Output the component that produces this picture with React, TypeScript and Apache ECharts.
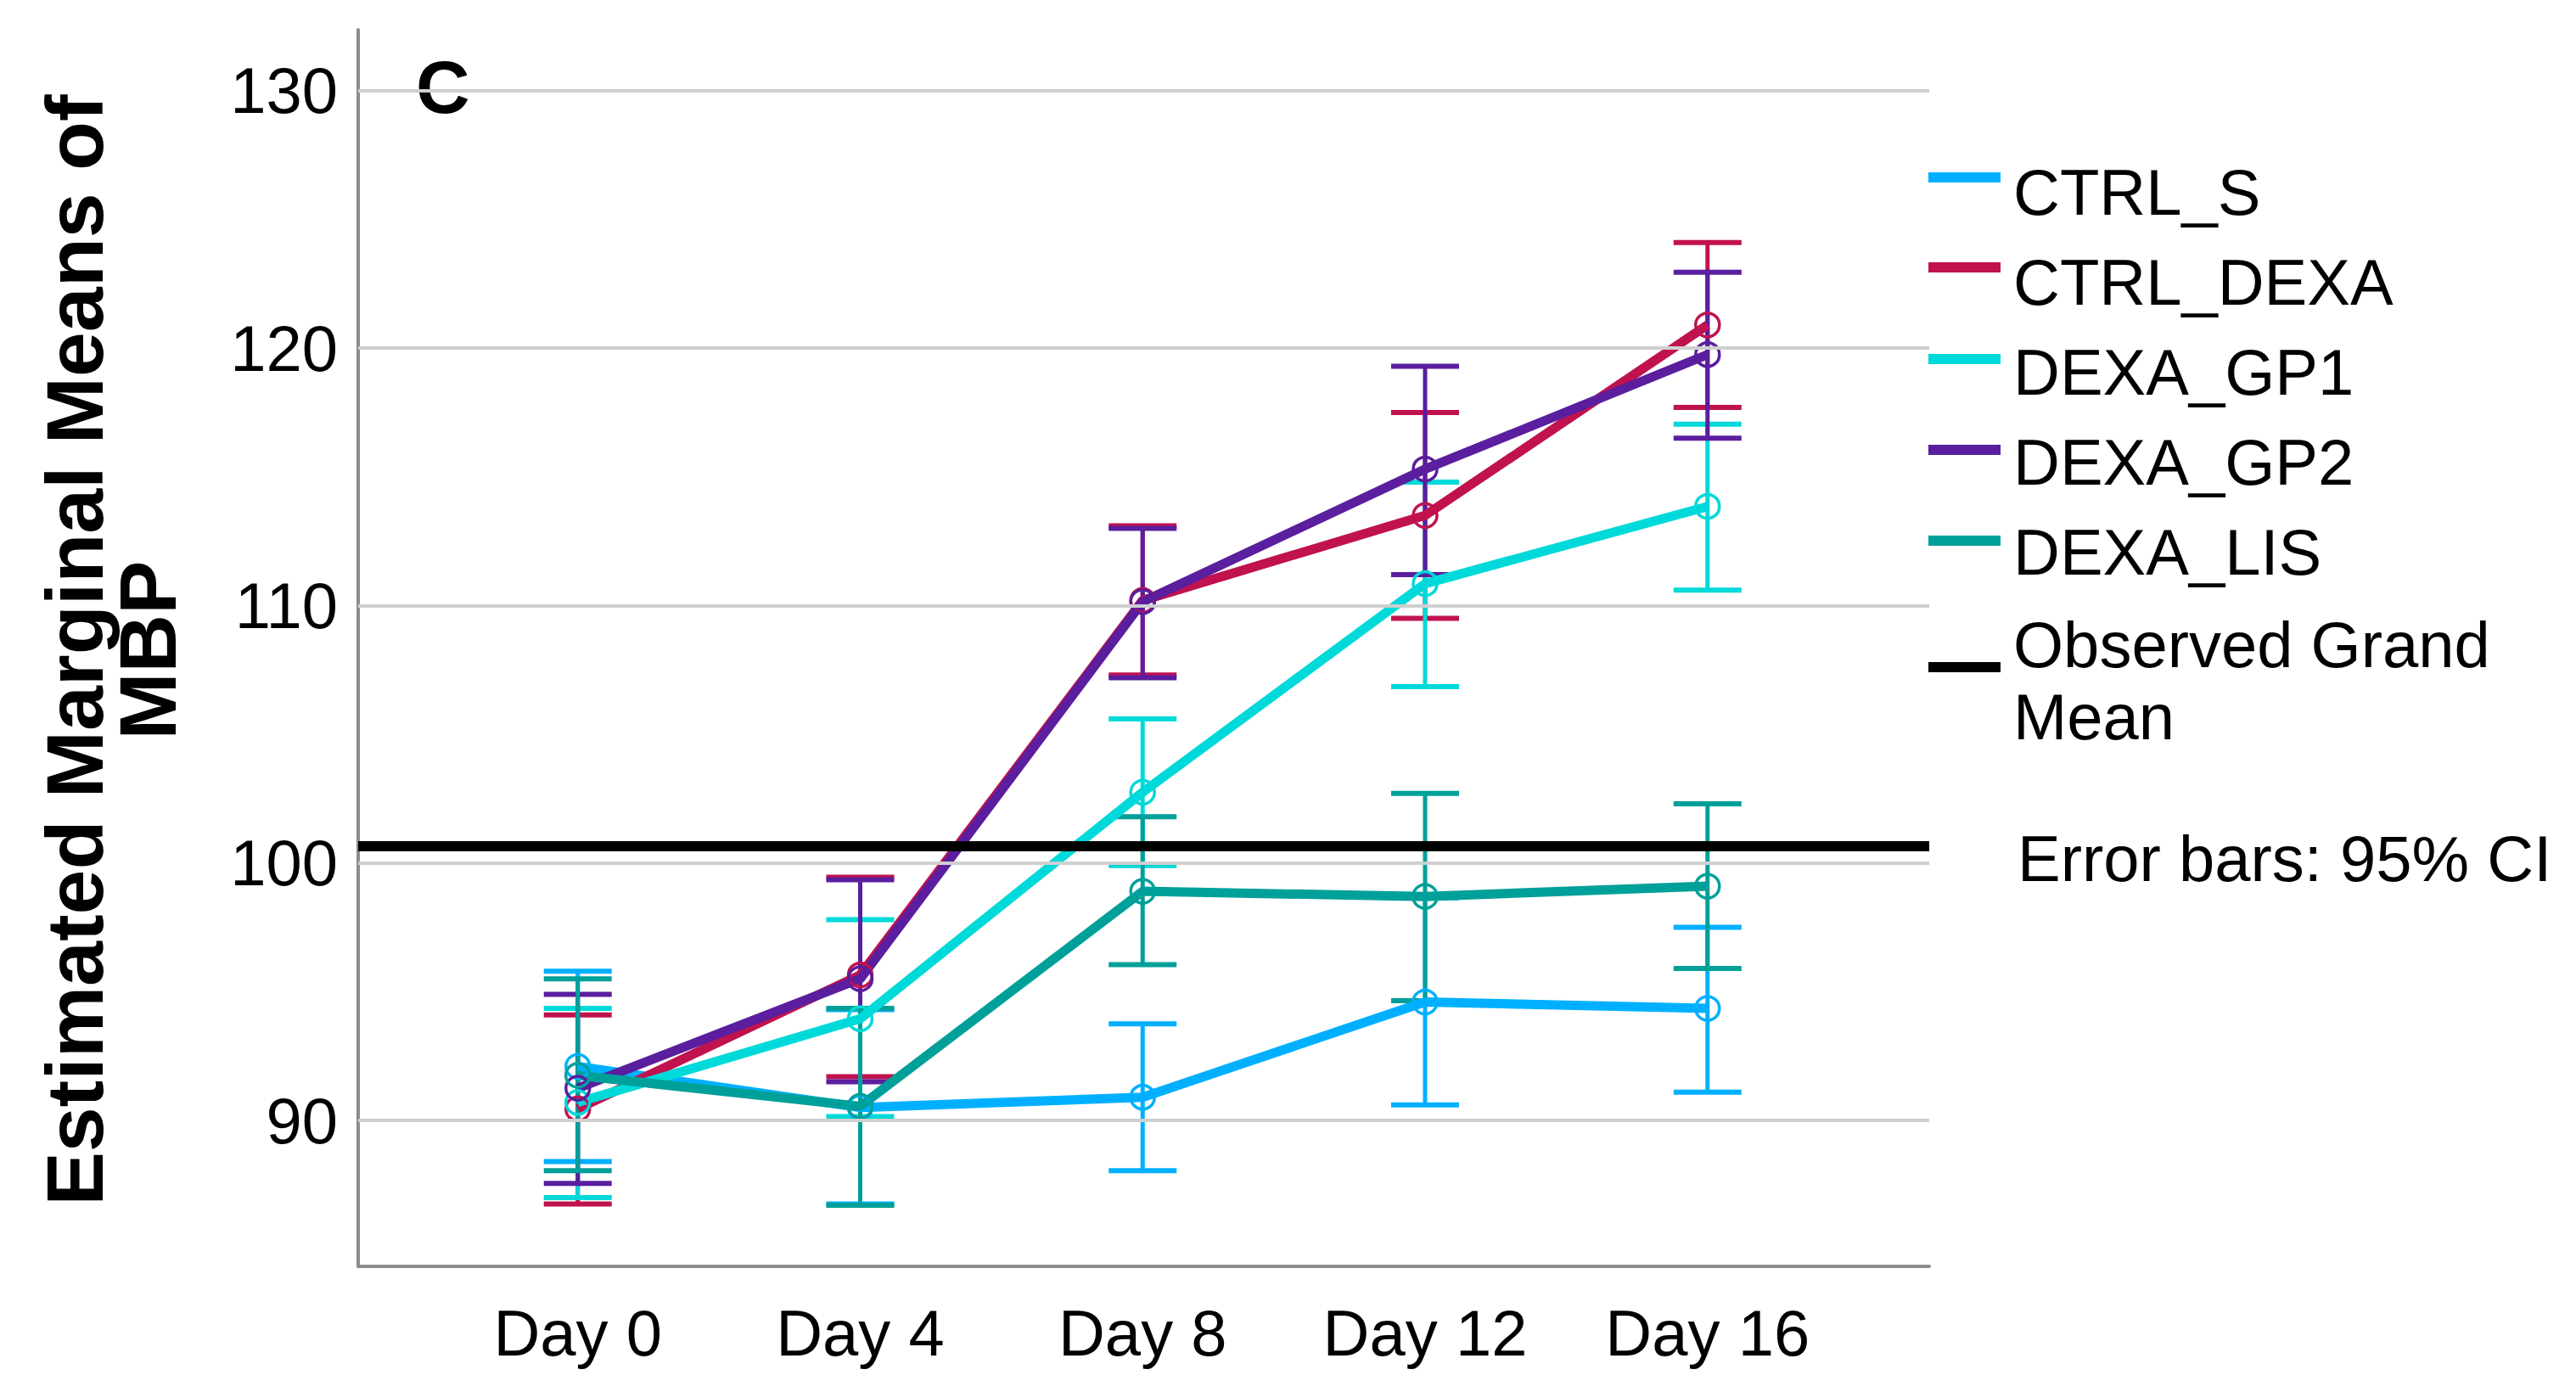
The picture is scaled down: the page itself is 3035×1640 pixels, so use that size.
import React, { useEffect, useRef } from "react";
import * as echarts from "echarts";

const days = [0, 4, 8, 12, 16];
const dayLabels = ["Day 0", "Day 4", "Day 8", "Day 12", "Day 16"];
const yTicks = [90, 100, 110, 120, 130];
const seriesNames = ["CTRL_S", "CTRL_DEXA", "DEXA_GP1", "DEXA_GP2", "DEXA_LIS"];
const seriesColors = ["#00B0FF", "#C0124E", "#00D9D9", "#5A1E9E", "#00A09A"];

const ctrlS = [92.1, 90.5, 90.9, 94.6, 94.35];
const ctrlDexa = [90.45, 95.65, 110.2, 113.5, 120.9];
const gp1 = [90.7, 93.95, 102.75, 110.85, 113.85];
const gp2 = [91.25, 95.5, 110.15, 115.3, 119.75];
const lis = [91.75, 90.55, 98.9, 98.7, 99.1];

const ctrlSLo = [88.4, 86.75, 88.05, 90.6, 91.1];
const ctrlSHi = [95.8, 94.3, 93.75, 98.65, 97.5];
const ctrlDexaLo = [86.75, 91.7, 107.3, 109.5, 117.7];
const ctrlDexaHi = [94.1, 99.45, 113.1, 117.5, 124.1];
const gp1Lo = [87.0, 90.15, 99.9, 106.85, 110.6];
const gp1Hi = [94.35, 97.8, 105.6, 114.8, 117.05];
const gp2Lo = [87.55, 91.5, 107.2, 111.2, 116.5];
const gp2Hi = [94.9, 99.35, 113.0, 119.3, 122.95];
const lisLo = [88.05, 86.7, 96.05, 94.65, 95.9];
const lisHi = [95.5, 94.35, 101.8, 102.7, 102.3];

const grandMean = 100.65;

const means = [ctrlS, ctrlDexa, gp1, gp2, lis];
const lows = [ctrlSLo, ctrlDexaLo, gp1Lo, gp2Lo, lisLo];
const highs = [ctrlSHi, ctrlDexaHi, gp1Hi, gp2Hi, lisHi];

const FONT = "'Liberation Sans', Arial, sans-serif";

export default function App() {
  const ref = useRef<HTMLDivElement>(null);
  useEffect(() => {
    document.body.style.margin = "0";
    if (!ref.current) return;
    const chart = echarts.init(ref.current, null, { renderer: "svg" });

    const errorSeries = seriesNames.map((name, i) => ({
      type: "custom",
      name: name + " CI",
      z: 2,
      silent: true,
      encode: { x: 0, y: [1, 2] },
      data: days.map((d, j) => [d, lows[i][j], highs[i][j]]),
      renderItem: (params: any, api: any) => {
        const x = api.value(0);
        const lo = api.coord([x, api.value(1)]);
        const hi = api.coord([x, api.value(2)]);
        const hw = 40;
        const color = seriesColors[i];
        return {
          type: "group",
          children: [
            { type: "line", shape: { x1: lo[0], y1: lo[1], x2: hi[0], y2: hi[1] }, style: { stroke: color, lineWidth: 5 } },
            { type: "line", shape: { x1: hi[0] - hw, y1: hi[1], x2: hi[0] + hw, y2: hi[1] }, style: { stroke: color, lineWidth: 6 } },
            { type: "line", shape: { x1: lo[0] - hw, y1: lo[1], x2: lo[0] + hw, y2: lo[1] }, style: { stroke: color, lineWidth: 6 } },
          ],
        };
      },
    }));

    const lineSeries = seriesNames.map((name, i) => ({
      type: "line",
      name,
      z: 3,
      data: days.map((d, j) => [d, means[i][j]]),
      symbol: "circle",
      symbolSize: 28,
      showAllSymbol: true,
      lineStyle: { color: seriesColors[i], width: 11 },
      itemStyle: { color: "rgba(255,255,255,0)", borderColor: seriesColors[i], borderWidth: 3.5 },
      silent: true,
    }));

    const gridSeries = {
      type: "line",
      name: "grid",
      data: [],
      z: 1,
      silent: true,
      markLine: {
        silent: true,
        symbol: "none",
        label: { show: false },
        lineStyle: { color: "#CFCFCF", width: 4, type: "solid" },
        data: yTicks.map((v) => ({ yAxis: v })),
      },
    };

    const meanSeries = {
      type: "line",
      name: "Observed Grand Mean",
      data: [],
      z: 4,
      silent: true,
      markLine: {
        silent: true,
        symbol: "none",
        label: { show: false },
        lineStyle: { color: "#000000", width: 12, type: "solid" },
        data: [{ yAxis: grandMean }],
      },
    };

    const legendIconY = [209, 315, 423, 530, 637];
    const legendTextY = [226, 332, 438, 544, 650];
    const graphic: any[] = [];
    seriesNames.forEach((name, i) => {
      graphic.push({
        type: "line",
        shape: { x1: 2272, y1: legendIconY[i], x2: 2357, y2: legendIconY[i] },
        style: { stroke: seriesColors[i], lineWidth: 12 },
      });
      graphic.push({
        type: "text",
        x: 2372,
        y: legendTextY[i],
        style: { text: name, font: `76px ${FONT}`, fill: "#000", textVerticalAlign: "middle", textAlign: "left" },
      });
    });
    graphic.push({
      type: "line",
      shape: { x1: 2272, y1: 786, x2: 2357, y2: 786 },
      style: { stroke: "#000", lineWidth: 12 },
    });
    graphic.push({
      type: "text",
      x: 2372,
      y: 759,
      style: { text: "Observed Grand", font: `76px ${FONT}`, fill: "#000", textVerticalAlign: "middle" },
    });
    graphic.push({
      type: "text",
      x: 2372,
      y: 844,
      style: { text: "Mean", font: `76px ${FONT}`, fill: "#000", textVerticalAlign: "middle" },
    });
    graphic.push({
      type: "text",
      x: 2377,
      y: 1011,
      style: { text: "Error bars: 95% CI", font: `76px ${FONT}`, fill: "#000", textVerticalAlign: "middle" },
    });
    graphic.push({
      type: "text",
      x: 490,
      y: 102,
      style: { text: "C", font: `bold 88px ${FONT}`, fill: "#000", textVerticalAlign: "middle" },
    });
    graphic.push({
      type: "text",
      x: 88,
      y: 766,
      rotation: Math.PI / 2,
      style: { text: "Estimated Marginal Means of", font: `bold 95px ${FONT}`, fill: "#000", textAlign: "center", textVerticalAlign: "middle" },
    });
    graphic.push({
      type: "text",
      x: 174,
      y: 766,
      rotation: Math.PI / 2,
      style: { text: "MBP", font: `bold 95px ${FONT}`, fill: "#000", textAlign: "center", textVerticalAlign: "middle" },
    });

    chart.setOption({
      animation: false,
      backgroundColor: "#ffffff",
      grid: { left: 422, top: 35, width: 1851, height: 1457, containLabel: false },
      xAxis: {
        type: "value",
        min: -3.11,
        max: 19.14,
        splitLine: { show: false },
        axisTick: { show: false },
        axisLine: { show: true, onZero: false, lineStyle: { color: "#8C8C8C", width: 4 } },
        axisLabel: {
          customValues: days,
          margin: 40,
          color: "#000",
          fontSize: 76,
          fontFamily: FONT,
          formatter: (v: number) => dayLabels[days.indexOf(v)] ?? "",
        },
      },
      yAxis: {
        type: "value",
        min: 84.33,
        max: 132.37,
        splitLine: { show: false },
        axisTick: { show: false },
        axisLine: { show: true, onZero: false, lineStyle: { color: "#8C8C8C", width: 4 } },
        axisLabel: {
          customValues: yTicks,
          margin: 24,
          color: "#000",
          fontSize: 76,
          fontFamily: FONT,
        },
      },
      graphic,
      series: [gridSeries, ...errorSeries, ...lineSeries, meanSeries],
    });
    return () => chart.dispose();
  }, []);
  return <div ref={ref} style={{ width: 3035, height: 1640 }} />;
}
